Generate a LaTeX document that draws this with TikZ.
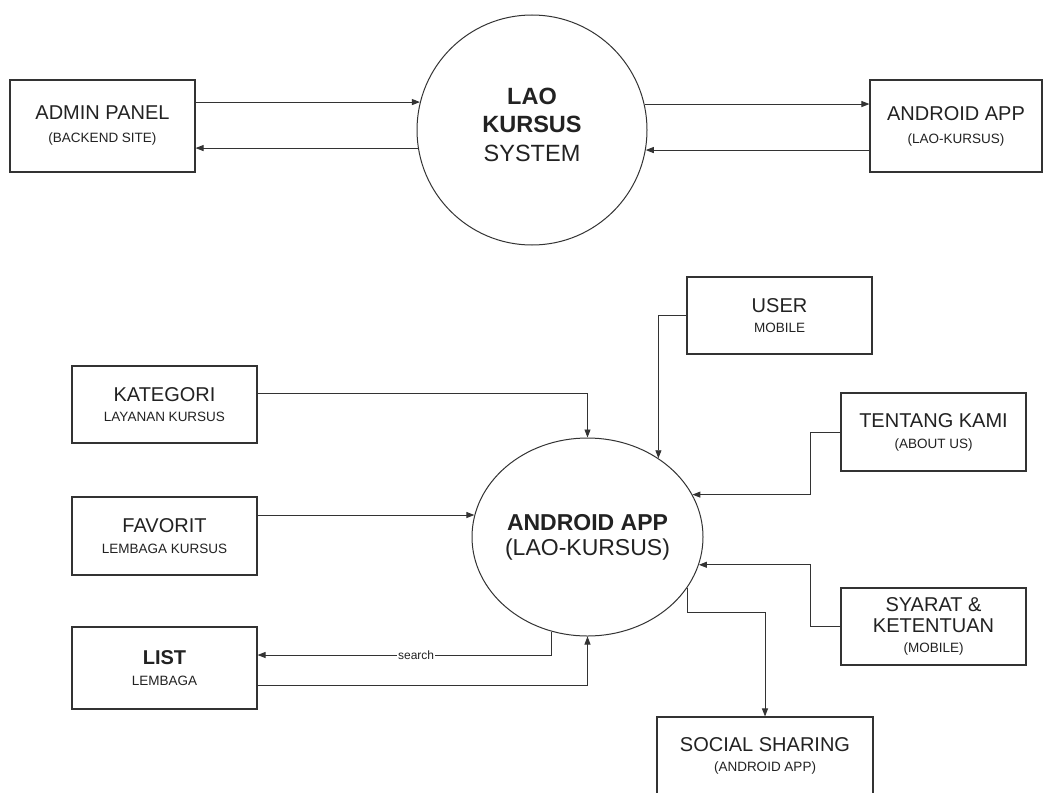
\documentclass[tikz,border=0pt]{standalone}
\usepackage{fontspec}
\setmainfont{Liberation Sans}
\usetikzlibrary{arrows.meta,shapes.geometric}
\definecolor{ink}{HTML}{222222}
\definecolor{linec}{HTML}{333333}
\newcommand{\smtx}{\fontsize{13.5}{16}\selectfont}
\begin{document}
\begin{tikzpicture}[x=1pt,y=-1pt,
  box/.style={draw=linec, line width=1.1pt, rectangle, inner sep=0pt, align=center, text=ink, font=\fontsize{20}{20.5}\selectfont},
  arr/.style={draw=linec, line width=0.9pt, -{Triangle[length=8pt,width=6pt]}},
  bigtxt/.style={align=center, text=ink}]
\useasboundingbox (0,0) rectangle (1048,792);
\clip (0,0) rectangle (1048,792);
\fill[white] (0,0) rectangle (1048,792);

% ---- top context diagram ----
\node[box, minimum width=185pt, minimum height=92pt, font=\fontsize{20}{23}\selectfont] (admin) at (102.5,126) {ADMIN PANEL\\{\smtx (BACKEND SITE)}};
\node[box, minimum width=172pt, minimum height=92pt, font=\fontsize{20}{23}\selectfont] (app) at (956,126) {ANDROID APP\\{\smtx (LAO-KURSUS)}};
\node[circle, draw=linec, line width=1pt, minimum size=230pt, inner sep=0pt] (sys) at (532,130) {};
\node[bigtxt, font=\fontsize{23.5}{28.5}\selectfont] (systxt) at ([yshift=5.5pt]sys.center) {\textbf{LAO}\\\textbf{KURSUS}\\SYSTEM};

\draw[arr] (admin.east |- sys.166.4) -- (sys.166.4);
\draw[arr] (sys.189.5) -- (sys.189.5 -| admin.east);
\draw[arr] (sys.13.6) -- (sys.13.6 -| app.west);
\draw[arr] (app.west |- sys.350.5) -- (sys.350.5);

% ---- bottom diagram ----
\node[box, minimum width=185pt, minimum height=77pt] (kat) at (164.5,404.5) {KATEGORI\\{\smtx LAYANAN KURSUS}};
\node[box, minimum width=185pt, minimum height=78pt] (fav) at (164.5,536) {FAVORIT\\{\smtx LEMBAGA KURSUS}};
\node[box, minimum width=185pt, minimum height=82pt] (list) at (164.5,668) {\textbf{LIST}\\{\smtx LEMBAGA}};
\node[box, minimum width=185pt, minimum height=77pt] (user) at (779.5,315.5) {USER\\{\smtx MOBILE}};
\node[box, minimum width=185pt, minimum height=78pt, font=\fontsize{20}{21}\selectfont] (tent) at (933.5,432) {TENTANG KAMI\\{\smtx (ABOUT US)}};
\node[box, minimum width=185pt, minimum height=77pt, font=\fontsize{20}{21}\selectfont] (syarat) at (933.5,626.5) {SYARAT \&\\KETENTUAN\\[-1pt]{\smtx (MOBILE)}};
\node[box, minimum width=216pt, minimum height=78pt] (social) at (765,756) {SOCIAL SHARING\\{\smtx (ANDROID APP)}};
\node[ellipse, draw=linec, line width=1pt, minimum width=231pt, minimum height=198pt, inner sep=0pt] (aa) at (587.5,537) {};
\node[bigtxt, font=\fontsize{23}{25}\selectfont] (aatxt) at (aa.center) {\textbf{ANDROID APP}\\(LAO-KURSUS)};

\draw[arr] ([yshift=11.5pt]kat.east) -| (aa.north);
\draw[arr] (user.west) -| (aa.48.04);
\draw[arr] (tent.west) -- ++(-30,0) |- (aa.22.46);
\draw[arr] (syarat.west) -- ++(-30,0) |- (aa.346.86);
\draw[arr] (aa.333.2) -- ++(0,25) -| (social.north);
\draw[arr] (fav.east |- aa.169.46) -- (aa.169.46);
\draw[arr] (aa.249.94) |- node[pos=0.73, fill=white, inner sep=1pt, font=\fontsize{12}{12}\selectfont, text=ink] (searchlbl) {search} ([yshift=13pt]list.east);
\draw[arr] ([yshift=-17pt]list.east) -| (aa.south);
\end{tikzpicture}
\end{document}
